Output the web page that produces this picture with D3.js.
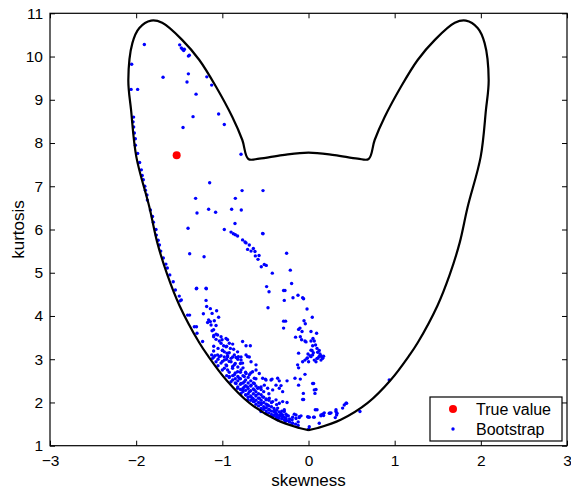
<!DOCTYPE html>
<html>
<head>
<meta charset="utf-8">
<script src="https://cdn.jsdelivr.net/npm/d3@7"></script>
<style>
  body { margin: 0; background: #fff; }
  svg { display: block; font-family: 'Liberation Sans', Arial, Helvetica, sans-serif; }
</style>
</head>
<body>
<script>
// boundary of the attainable (skewness, kurtosis) region
const boundary = [
  [0, 1.36], [-0.107, 1.41], [-0.374, 1.6], [-0.687, 1.99], [-0.954, 2.52],
  [-1.174, 3.1], [-1.267, 3.38], [-1.499, 4.25], [-1.638, 4.95], [-1.754, 5.69],
  [-1.847, 6.52], [-1.998, 7.68], [-2.059, 8.76], [-2.091, 9.46], [-2.044, 10.31],
  [-1.963, 10.66], [-1.827, 10.83], [-1.698, 10.78], [-1.464, 10.38], [-1.267, 9.92],
  [-1.073, 9.3], [-0.884, 8.6], [-0.768, 8.07], [-0.698, 7.63],
  [-0.571, 7.64], [-0.304, 7.72], [0, 7.78], [0.304, 7.72], [0.571, 7.64],
  [0.698, 7.63], [0.768, 8.07], [0.884, 8.6], [1.073, 9.3], [1.267, 9.92],
  [1.464, 10.38], [1.698, 10.78], [1.827, 10.83], [1.963, 10.66], [2.044, 10.31],
  [2.091, 9.46], [2.059, 8.76], [1.998, 7.68], [1.847, 6.52], [1.754, 5.69],
  [1.638, 4.95], [1.499, 4.25], [1.267, 3.38], [1.174, 3.1], [0.954, 2.52],
  [0.687, 1.99], [0.374, 1.6], [0.107, 1.41], [0, 1.36]
];

const trueValue = [[-1.53, 7.72]];

const bootstrap = [
  // upper part
  [-1.905,10.28],[-1.495,10.27],[-1.476,10.2],[-1.461,10.17],[-1.449,10.14],[-1.441,10.17],
  [-1.394,10.01],[-1.383,10.03],[-2.052,9.82],[-1.394,9.6],[-1.688,9.52],[-1.41,9.41],
  [-2.059,9.24],[-1.983,9.24],[-1.305,9.13],[-1.18,9.53],[-1.124,9.34],[-1.043,8.67],
  [-1.34,8.61],[-0.977,8.43],[-1.456,8.36],[-2.036,8.49],[-2.029,8.37],[-2.021,8.23],
  [-2.009,7.95],[-1.983,7.76],[-0.783,7.74],
  // along the left edge
  [-1.94,7.38],[-1.917,7.15],[-1.893,6.91],[-1.87,6.68],[-1.835,6.45],[-1.8,6.17],
  [-1.766,5.87],[-1.73,5.64],[-1.685,5.34],[-1.638,5.11],[-1.57,4.79],[-1.5,4.46],
  [-1.38,4.02],[-1.3,3.75],
  [-2.03,8.6],[-2.01,8.1],[-1.96,7.55],[-1.93,7.25],[-1.9,7.0],[-1.875,6.8],
  [-1.81,6.3],[-1.77,6.0],[-1.745,5.75],[-1.715,5.5],[-1.655,5.2],[-1.61,4.95],
  [-1.545,4.6],[-1.49,4.35],
  // middle band
  [-1.147,7.08],[-0.771,6.9],[-0.528,6.9],[-1.31,6.72],[-0.849,6.72],[-1.159,6.47],
  [-1.078,6.4],[-1.294,6.38],[-0.892,6.47],[-0.78,6.45],[-0.853,6.14],[-1.398,6.03],
  [-0.977,6.0],[-0.899,5.94],[-0.872,5.9],[-0.849,5.88],[-0.823,5.85],[-0.528,5.9],
  [-0.532,5.91],[-0.765,5.76],[-0.737,5.71],[-0.687,5.64],[-0.725,5.69],[-0.707,5.54],
  [-0.667,5.5],[-0.64,5.56],[-0.621,5.49],[-0.617,5.39],[-0.574,5.4],[-0.586,5.31],
  [-0.548,5.14],[-0.513,5.19],[-0.49,5.17],[-0.42,4.99],[-0.254,5.45],[-1.379,5.44],
  [-1.212,5.37],[-1.302,4.63],[-1.186,4.63],[-0.486,4.68],
  // right arm
  [-0.211,5.06],[-0.196,4.75],[-0.458,4.56],[-0.289,4.59],[-0.273,4.59],[-0.281,4.36],
  [-0.18,4.42],[-0.122,4.48],[-0.068,4.42],[-0.057,4.4],[-0.47,4.19],[-0.017,4.16],
  [0.044,3.97],[-0.289,3.88],[-0.266,3.88],[-0.052,3.89],[-0.037,3.82],[-0.289,3.72],
  [-0.115,3.69],[-0.099,3.72],[0.029,3.64],[0.094,3.6],[-0.075,3.64],[-0.15,3.51],
  [-0.095,3.52],[-0.08,3.45],[0.052,3.48],[0.067,3.42],[0.029,3.42],[-0.041,3.42],
  [-0.029,3.4],[0.082,3.33],[0.099,3.25],[0.048,3.31],[0.029,3.21],[0.041,3.2],
  [0.056,3.15],[0.106,3.16],[0.125,3.2],[0.133,3.12],[-0.115,3.14],[-0.006,3.12],
  [0.017,3.08],[-0.014,3.03],[0.145,3.08],[0.164,3.03],[0.099,3.02],[0.122,3.06],
  [-0.126,2.87],[-0.115,2.8],[-0.068,2.94],[-0.041,2.98],[-0.017,3.02],[0.001,2.94],
  [0.029,3.06],[0.067,2.98],[0.106,3.02],[0.125,3.06],[0.145,2.98],[0.164,3.02],
  [0.175,3.07],[0.087,2.94],[0.048,3.1],
  // lower right scatter
  [-0.501,2.54],[-0.423,2.54],[-0.339,2.5],[-0.249,2.5],[-0.319,2.39],[-0.157,2.56],
  [-0.095,2.54],[-0.041,2.65],[-0.115,2.4],[0.059,2.44],[0.087,2.3],[-0.057,2.07],
  [-0.249,2.0],[0.099,1.83],[0.319,1.83],[0.331,1.75],[0.415,1.94],[0.435,1.98],
  [0.249,1.75],[0.145,1.69],[0.175,1.7],[0.067,1.66],[0.009,1.66],[-0.165,1.73],
  [-0.107,1.65],[-0.145,1.63],[-0.184,1.66],[0.311,1.65],[-0.281,1.83],[-0.261,1.73],
  [-0.234,1.69],[-0.3,1.71],[-0.269,1.56],[-0.358,1.6],
  [-0.06,2.21],[0.048,2.44],[0.067,2.29],[0.075,2.21],[-0.068,2.07],[-0.087,1.69],
  [0.001,1.66],[0.059,1.66],[0.145,1.71],[0.164,1.73],[0.241,1.75],[0.261,1.76],
  [0.319,1.79],[0.326,1.71],[0.125,1.52],[0.442,1.98],[0.001,1.38],[0.597,1.79],
  [0.937,2.52],
  [-0.377,1.75],[-0.319,1.71],[-0.281,1.79],[-0.261,1.63],[-0.223,1.56],[-0.145,1.71],
  [-0.107,1.67],[-0.184,1.52],[0.079,1.83],[0.183,1.76],[0.396,1.87],[-0.01,1.67],
  [0.009,1.44],
  // lower left cluster
  [-1.298,4.64],[-1.189,4.64],[-1.476,4.37],[-1.189,4.36],[-1.182,4.22],[-1.139,4.17],
  [-1.403,4.02],[-1.22,4.05],[-1.119,4.06],[-1.066,4.12],[-1.043,3.97],[-1.159,3.91],
  [-1.139,3.87],[-1.171,3.85],[-1.093,3.89],[-1.131,3.79],[-1.073,3.78],[-1.325,3.75],
  [-1.119,3.66],[-1.101,3.68],[-1.073,3.58],[-1.055,3.56],[-1.015,3.52],[-1.101,3.52],
  [-1.294,3.6],[-1.073,3.46],[-1.035,3.42],[-1.003,3.45],[-0.957,3.48],[-0.939,3.45],
  [-0.765,3.41],[-1.229,3.41],[-0.725,3.31],[-0.675,3.31],[-1.015,3.37],[-0.919,3.37],
  [-0.985,3.31],[-0.957,3.29],[-0.907,3.25],[-0.869,3.23],[-0.823,3.17],[-0.997,3.21],
  [-0.977,3.17],[-0.945,3.14],[-1.101,3.19],[-1.124,3.1],[-1.085,3.08],[-1.055,3.1],
  [-1.015,3.08],[-0.977,3.05],[-0.939,3.06],[-0.899,3.02],[-0.861,3.1],[-0.814,3.06],
  [-0.783,3.05],[-0.725,3.1],[-0.687,3.05],
  [-1.113,3.02],[-1.035,3.06],[-0.977,2.98],[-0.939,3.08],[-0.899,2.94],[-0.841,3.04],
  [-0.783,2.98],[-0.765,2.91],[-0.707,3.06],[-0.667,2.94],[-0.609,2.87],[-0.861,2.87],
  [-0.957,2.87],[-1.015,2.91],[-1.073,2.94],
  [-0.977,2.79],[-0.939,2.75],[-0.881,2.79],[-0.823,2.71],[-0.783,2.75],[-0.725,2.67],
  [-0.687,2.64],[-0.649,2.71],[-0.609,2.75],[-0.571,2.67],[-0.532,2.56],[-0.493,2.52],
  [-0.435,2.52],[-0.358,2.56],[-0.861,2.64],[-0.919,2.6],[-0.803,2.56],[-0.745,2.6],
  [-0.629,2.56],
  [-0.899,2.48],[-0.841,2.44],[-0.783,2.44],[-0.745,2.48],[-0.707,2.36],[-0.667,2.4],
  [-0.629,2.44],[-0.59,2.33],[-0.551,2.36],[-0.513,2.4],[-0.474,2.33],[-0.416,2.29],
  [-0.377,2.4],[-0.339,2.33],[-0.3,2.25],[-0.823,2.33],[-0.765,2.29],[-0.687,2.25],
  [-0.629,2.29],[-0.745,2.36],
  [-0.783,2.21],[-0.725,2.17],[-0.667,2.13],[-0.609,2.17],[-0.571,2.1],[-0.532,2.13],
  [-0.493,2.06],[-0.455,2.1],[-0.416,2.02],[-0.377,2.06],[-0.339,1.98],[-0.3,2.02],
  [-0.629,2.02],[-0.551,1.98],[-0.474,1.94],[-0.707,2.06],[-0.649,2.1],
  [-0.513,1.87],[-0.455,1.83],[-0.397,1.79],[-0.358,1.87],[-0.319,1.75],[-0.416,1.67],
  [-0.377,1.63],[-0.3,1.67],[-0.551,1.79],[-0.493,1.75],
  // dense core along the lower boundary
  [-0.95,2.62],[-0.95,2.85],[-0.95,3.0],[-0.95,3.3],
  [-0.92,2.58],[-0.92,2.7],[-0.92,2.95],[-0.92,3.15],
  [-0.88,2.52],[-0.88,2.62],[-0.88,2.83],[-0.88,3.05],[-0.88,3.35],
  [-0.85,2.45],[-0.85,2.55],[-0.85,2.68],[-0.85,2.9],
  [-0.82,2.36],[-0.82,2.5],[-0.82,2.6],[-0.82,2.82],[-0.82,3.0],
  [-0.79,2.3],[-0.79,2.42],[-0.79,2.55],[-0.79,2.7],[-0.79,2.9],
  [-0.76,2.25],[-0.76,2.33],[-0.76,2.45],[-0.76,2.62],[-0.76,2.8],
  [-0.73,2.18],[-0.73,2.28],[-0.73,2.39],[-0.73,2.52],[-0.73,2.7],
  [-0.7,2.12],[-0.7,2.2],[-0.7,2.32],[-0.7,2.45],[-0.7,2.58],
  [-0.67,2.05],[-0.67,2.15],[-0.67,2.27],[-0.67,2.38],[-0.67,2.5],[-0.67,2.68],
  [-0.64,2.02],[-0.64,2.08],[-0.64,2.2],[-0.64,2.31],[-0.64,2.45],
  [-0.61,1.96],[-0.61,2.05],[-0.61,2.15],[-0.61,2.25],[-0.61,2.38],[-0.61,2.55],
  [-0.58,1.92],[-0.58,2.0],[-0.58,2.1],[-0.58,2.2],[-0.58,2.34],
  [-0.55,1.86],[-0.55,1.95],[-0.55,2.05],[-0.55,2.18],[-0.55,2.3],
  [-0.52,1.84],[-0.52,1.9],[-0.52,2.0],[-0.52,2.12],[-0.52,2.25],
  [-0.49,1.8],[-0.49,1.88],[-0.49,1.96],[-0.49,2.08],
  [-0.46,1.76],[-0.46,1.84],[-0.46,1.92],[-0.46,2.05],[-0.46,2.2],
  [-0.43,1.72],[-0.43,1.8],[-0.43,1.9],[-0.43,2.0],
  [-0.4,1.7],[-0.4,1.78],[-0.4,1.86],
  [-0.37,1.67],[-0.37,1.72],[-0.37,1.82],[-0.37,1.95],
  [-0.34,1.64],[-0.34,1.7],[-0.34,1.78],
  [-0.31,1.62],[-0.31,1.68],[-0.31,1.8],
  [-0.28,1.6],[-0.28,1.66],[-0.25,1.58],[-0.25,1.7],
  [-0.22,1.55],[-0.22,1.62],[-0.19,1.52],[-0.19,1.6],
  [-0.15,1.5],[-0.12,1.47],[-0.12,1.55],
  [-1.05,2.85],[-1.05,3.0],[-1.05,3.25],
  [-1.1,3.05],[-1.1,3.3],[-1.1,3.55],
  [-1.0,2.75],[-1.0,2.95],[-1.0,3.2]
];

const xTicks = [-3, -2, -1, 0, 1, 2, 3];
const yTicks = [1, 2, 3, 4, 5, 6, 7, 8, 9, 10, 11];
const legendLabels = ['True value', 'Bootstrap'];

const width = 571, height = 493;
const margin = { top: 13.3, right: 4, bottom: 47.3, left: 50 };

const svg = d3.select('body').append('svg')
  .attr('width', width)
  .attr('height', height);

const x = d3.scaleLinear().domain([-3, 3]).range([margin.left, width - margin.right]);
const y = d3.scaleLinear().domain([1, 11]).range([height - margin.bottom, margin.top]);

// axes, MATLAB style: inward ticks on all four sides
const fmt = d3.format('d');
svg.append('g')
  .attr('transform', `translate(0,${y(1)})`)
  .call(d3.axisBottom(x).tickValues(xTicks).tickFormat(fmt).tickSize(-5).tickPadding(9))
  .call(g => g.select('.domain').remove())
  .selectAll('text').attr('font-size', 15.5).attr('fill', '#000');

svg.append('g')
  .attr('transform', `translate(0,${y(11)})`)
  .call(d3.axisTop(x).tickValues(xTicks).tickFormat('').tickSize(-5))
  .call(g => g.select('.domain').remove());

svg.append('g')
  .attr('transform', `translate(${x(-3)},0)`)
  .call(d3.axisLeft(y).tickValues(yTicks).tickFormat(fmt).tickSize(-5).tickPadding(7))
  .call(g => g.select('.domain').remove())
  .selectAll('text').attr('font-size', 15.5).attr('fill', '#000');

svg.append('g')
  .attr('transform', `translate(${x(3)},0)`)
  .call(d3.axisRight(y).tickValues(yTicks).tickFormat('').tickSize(-5))
  .call(g => g.select('.domain').remove());

svg.selectAll('.tick line').attr('stroke', '#000').attr('stroke-width', 1);

svg.append('rect')
  .attr('x', x(-3)).attr('y', y(11))
  .attr('width', x(3) - x(-3)).attr('height', y(1) - y(11))
  .attr('fill', 'none').attr('stroke', '#000').attr('stroke-width', 1.2);

// data
svg.append('g').selectAll('circle.true')
  .data(trueValue).join('circle')
  .attr('cx', d => x(d[0])).attr('cy', d => y(d[1]))
  .attr('r', 4).attr('fill', '#ff0000');

svg.append('g').selectAll('circle')
  .data(bootstrap).join('circle')
  .attr('cx', d => x(d[0])).attr('cy', d => y(d[1]))
  .attr('r', 1.7).attr('fill', '#0000ff');

svg.append('path')
  .datum(boundary)
  .attr('d', d3.line().x(d => x(d[0])).y(d => y(d[1])).curve(d3.curveCatmullRom.alpha(0.5)))
  .attr('fill', 'none').attr('stroke', '#000').attr('stroke-width', 2.2)
  .attr('stroke-linejoin', 'round');

// axis labels
svg.append('text')
  .attr('x', x(0)).attr('y', 486)
  .attr('text-anchor', 'middle').attr('font-size', 17)
  .text('skewness');

svg.append('text')
  .attr('transform', `translate(24,${y(6)}) rotate(-90)`)
  .attr('text-anchor', 'middle').attr('font-size', 17)
  .text('kurtosis');

// legend
const lg = svg.append('g').attr('transform', 'translate(430,397)');
lg.append('rect')
  .attr('width', 132).attr('height', 44)
  .attr('fill', '#fff').attr('stroke', '#000').attr('stroke-width', 1.2);
const items = lg.selectAll('g.item')
  .data(legendLabels).join('g')
  .attr('transform', (d, i) => `translate(0,${12 + i * 20})`);
items.append('circle')
  .attr('cx', 23).attr('cy', 0)
  .attr('r', (d, i) => i === 0 ? 4 : 1.7)
  .attr('fill', (d, i) => i === 0 ? '#ff0000' : '#0000ff');
items.append('text')
  .attr('x', 46).attr('y', 5.5)
  .attr('font-size', 16)
  .text(d => d);
</script>
</body>
</html>
